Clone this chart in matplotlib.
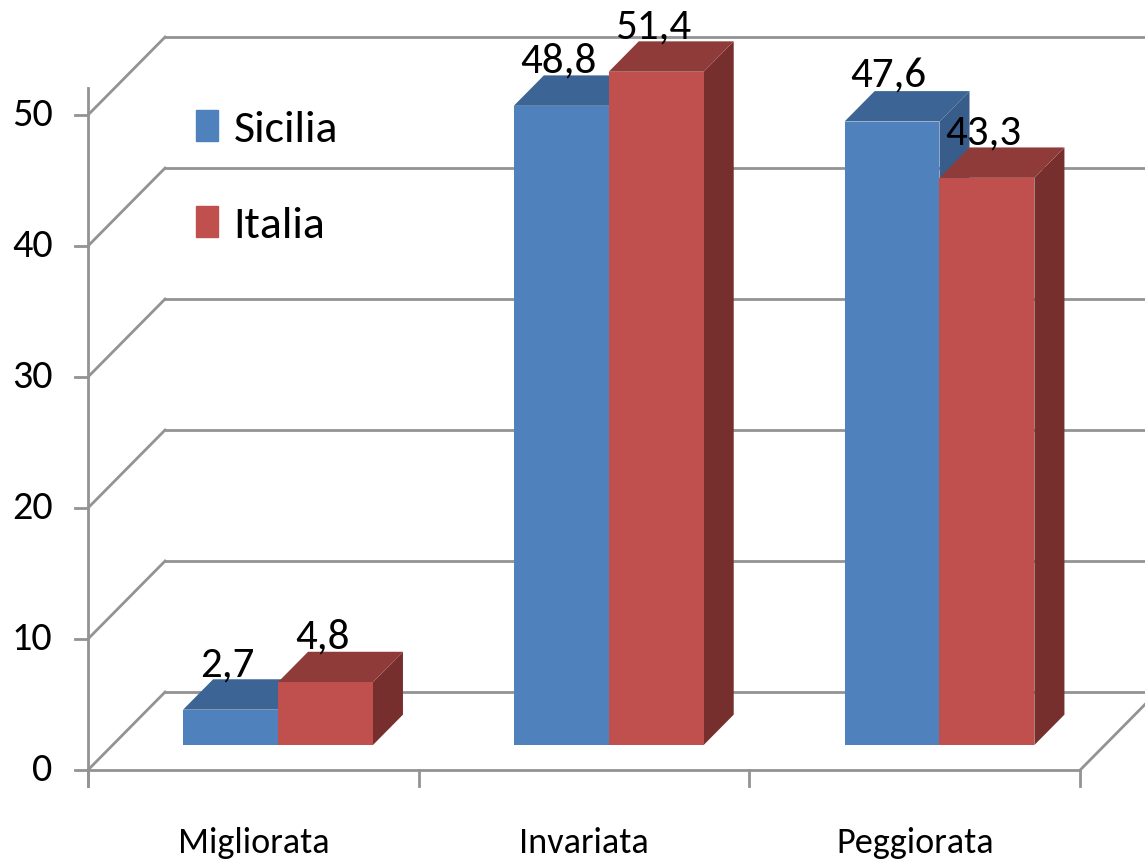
import matplotlib.pyplot as plt
from matplotlib.patches import Polygon, Patch

# data
categories = ['Migliorata', 'Invariata', 'Peggiorata']
series_names = ['Sicilia', 'Italia']
sicilia = [2.7, 48.8, 47.6]
italia = [4.8, 51.4, 43.3]
y_ticks = [0, 10, 20, 30, 40, 50]

# colours: front, top, side
colors = {
    'Sicilia': ('#4F81BD', '#3C6494', '#385D8A'),
    'Italia': ('#C0504D', '#8F3B39', '#772F2D'),
}
grid_col = '#939393'
font = ['Carlito', 'DejaVu Sans']

# fake 3D depth (data units)
DX, DY = 0.233, 5.95
F0, F1 = 0.32, 0.71
BAR_W = 0.287

fig = plt.figure(figsize=(11.45, 8.66), dpi=100)
ax = fig.add_axes([0, 0, 1, 1])
ax.set_xlim(-0.766, 2.696)
ax.set_ylim(-7.33, 58.78)
ax.axis('off')

n = len(categories)
x_left, x_right = -0.5, n - 0.5
x_end = ax.get_xlim()[1] + 0.1
lw = 2.0

# walls: back gridlines + left diagonals
for t in y_ticks:
    ax.plot([x_left, x_left + DX], [t, t + DY], color=grid_col, lw=lw, zorder=1)
    ax.plot([x_left + DX, x_end], [t + DY, t + DY], color=grid_col, lw=lw, zorder=1)
    ax.plot([x_left - 0.039, x_left], [t, t], color=grid_col, lw=lw, zorder=1)
    ax.text(-0.607, t, str(t), ha='right', va='center', fontsize=29, family=font)

# floor front edge and axis
ax.plot([x_left, x_right], [0, 0], color=grid_col, lw=lw, zorder=1)
ax.plot([x_right, x_right + DX], [0, DY], color=grid_col, lw=lw, zorder=1)
ax.plot([x_left, x_left], [-1.2, 52.1], color=grid_col, lw=lw, zorder=1)
for i in range(n + 1):
    ax.plot([i - 0.5, i - 0.5], [0, -1.2], color=grid_col, lw=lw, zorder=1)
for i, c in enumerate(categories):
    ax.text(i, -5.6, c, ha='center', va='center', fontsize=26, family=font)


def draw_bar(xl, v, name, z):
    front, top, side = colors[name]
    xr = xl + BAR_W
    ax.add_patch(Polygon([(xr + F0 * DX, F0 * DY), (xr + F1 * DX, F1 * DY),
                          (xr + F1 * DX, v + F1 * DY), (xr + F0 * DX, v + F0 * DY)],
                         closed=True, facecolor=side, edgecolor='none', zorder=z))
    ax.add_patch(Polygon([(xl + F0 * DX, v + F0 * DY), (xr + F0 * DX, v + F0 * DY),
                          (xr + F1 * DX, v + F1 * DY), (xl + F1 * DX, v + F1 * DY)],
                         closed=True, facecolor=top, edgecolor='none', zorder=z))
    ax.bar(xl + F0 * DX, v, width=BAR_W, bottom=F0 * DY, align='edge',
           color=front, edgecolor='none', zorder=z + 0.5)
    lab = f'{v:.1f}'.replace('.', ',')
    ax.text(xl + BAR_W / 2 + F0 * DX - 0.01, v + F1 * DY + 0.25, lab, ha='center',
            va='baseline', fontsize=31, family=font, zorder=20)


for i in range(n):
    draw_bar(i - BAR_W, sicilia[i], 'Sicilia', 3 + i * 2)
    draw_bar(i, italia[i], 'Italia', 4 + i * 2)

handles = [Patch(color=colors[s][0], label=s) for s in series_names]
ax.legend(handles=handles, loc='upper left', bbox_to_anchor=(196 / 1145, 1 - 110 / 866),
          frameon=False, borderpad=0, borderaxespad=0, handlelength=0.47,
          handleheight=0.67, handletextpad=0.35, labelspacing=1.25,
          prop={'family': font, 'size': 33})

fig.savefig('out.png', dpi=100)
